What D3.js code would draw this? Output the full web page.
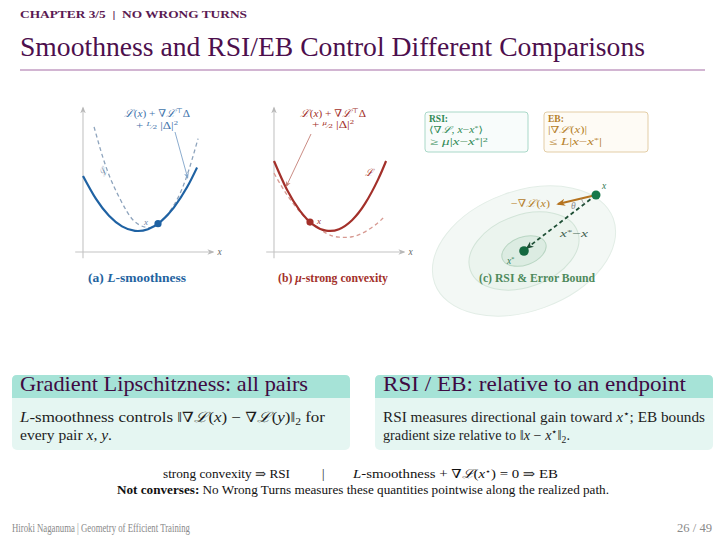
<!DOCTYPE html>
<html><head><meta charset="utf-8">
<script src="https://cdn.jsdelivr.net/npm/d3@7"></script>
<style>
body{margin:0;background:#fff}
svg{display:block}
text{font-family:"Liberation Serif","DejaVu Serif",serif}
.it{font-style:italic}
</style></head>
<body><svg id="s" width="726" height="544"></svg>
<script>
// ---------- data ----------
const smoothX      = [0, 1, 2, 3, 4, 5, 6, 7, 8, 8.77];
const smoothLoss   = [5.43, 3.79, 2.59, 1.83, 1.51, 1.63, 2.19, 3.19, 4.62, 6.03];
const smoothBoundX = [0.85, 1.85, 2.92, 3.85, 4.85, 5.77, 6.92, 7.92, 8.85];
const smoothBound  = [8.94, 5.87, 3.66, 2.29, 1.76, 2.02, 3.24, 5.24, 8.1];
const smoothPoint  = [5.77, 2.02];

const strongX      = [0, 1, 2, 3, 4, 5, 6, 7, 8, 8.62];
const strongLoss   = [6.5, 4.44, 2.94, 1.96, 1.53, 1.63, 2.27, 3.45, 5.17, 6.5];
const strongBoundX = [0, 1, 2, 2.77, 4, 5, 6, 7, 8, 8.54];
const strongBound  = [5.63, 4.09, 2.86, 2.14, 1.35, 1.06, 1.09, 1.44, 2.09, 2.58];
const strongPoint  = [2.77, 2.14];

const levelSets = [[4.75, 3.0], [2.85, 1.8], [1.15, 0.7]]; // semi-axes
const levelTilt = -20;
const optimum   = [0, 0];
const iterate   = [3.6, 2.8];
const negGrad   = [1.7, 2.35];
const dirEnd    = [0.15, 0.15];

const captions = ["(a) ", "(b) ", "(c) RSI & Error Bound"];

// ---------- setup ----------
const svg = d3.select("#s");
const defs = svg.append("defs");
function marker(id, color, size) {
  defs.append("marker").attr("id", id).attr("viewBox", "0 0 10 10")
    .attr("refX", 8).attr("refY", 5).attr("markerWidth", size).attr("markerHeight", size)
    .attr("orient", "auto-start-reverse").attr("markerUnits", "userSpaceOnUse")
    .append("path").attr("d", "M0,1 L10,5 L0,9 L3,5 Z").attr("fill", color);
}
marker("axis", "#b8b8b8", 7);
marker("blueA", "#7fa3c8", 6);
marker("redA", "#c47f76", 6);
marker("gradA", "#b5731f", 9);
marker("dirA", "#1f4f36", 8);

// ---------- header ----------
const purple = "#4d0f4d";
svg.append("text").attr("x", 20).attr("y", 18).attr("font-size", 11).attr("font-weight", "bold")
  .attr("fill", "#5a1a52").attr("textLength", 227).attr("lengthAdjust", "spacingAndGlyphs")
  .attr("xml:space", "preserve")
  .text("CHAPTER 3/5  |  NO WRONG TURNS");
svg.append("text").attr("x", 20).attr("y", 56).attr("font-size", 27).attr("fill", purple)
  .attr("textLength", 625).attr("lengthAdjust", "spacingAndGlyphs")
  .text("Smoothness and RSI/EB Control Different Comparisons");
svg.append("line").attr("x1", 20).attr("x2", 705).attr("y1", 70).attr("y2", 70)
  .attr("stroke", "#c39cc3").attr("stroke-width", 1.6);

// ---------- helpers ----------
function axes(g, xs, ys) {
  g.append("line").attr("x1", xs(0)).attr("x2", xs(0)).attr("y1", ys(-0.45)).attr("y2", ys(10.3))
    .attr("stroke", "#c4c4c4").attr("stroke-width", 1.1).attr("marker-end", "url(#axis)");
  g.append("line").attr("x1", xs(-0.6)).attr("x2", xs(10)).attr("y1", ys(0)).attr("y2", ys(0))
    .attr("stroke", "#c4c4c4").attr("stroke-width", 1.1).attr("marker-end", "url(#axis)");
  g.append("text").attr("x", xs(10.35)).attr("y", ys(0) + 3).attr("font-size", 9.5)
    .attr("class", "it").attr("fill", "#666").text("x");
}
function curve(xs, ys) {
  return d3.line().x(d => xs(d[0])).y(d => ys(d[1])).curve(d3.curveNatural);
}
function annot(g, cx, y1, y2, color, coef, len1, len2) {
  const t1 = g.append("text").attr("x", cx).attr("y", y1).attr("text-anchor", "middle").attr("font-size", 10.5).attr("fill", color)
    .attr("textLength", len1).attr("lengthAdjust", "spacingAndGlyphs");
  t1.append("tspan").attr("class", "it").text("ℒ");
  t1.append("tspan").text("(");
  t1.append("tspan").attr("class", "it").text("x");
  t1.append("tspan").text(") + ∇");
  t1.append("tspan").attr("class", "it").text("ℒ");
  t1.append("tspan").attr("font-size", 7).attr("dy", -4).text("⊤");
  t1.append("tspan").attr("dy", 4).text("Δ");
  const t2 = g.append("text").attr("x", cx).attr("y", y2).attr("text-anchor", "middle").attr("font-size", 10.5).attr("fill", color)
    .attr("textLength", len2).attr("lengthAdjust", "spacingAndGlyphs");
  t2.append("tspan").text("+ ");
  t2.append("tspan").attr("class", "it").attr("font-size", 7).attr("dy", -3).text(coef);
  t2.append("tspan").attr("font-size", 7).attr("dy", 3).text("⁄2");
  t2.append("tspan").text(" |Δ|");
  t2.append("tspan").attr("font-size", 7).attr("dy", -4).text("2");
}
function mathText(g, x, y, size, color, len, parts, weight) {
  const t = g.append("text").attr("x", x).attr("y", y).attr("font-size", size).attr("fill", color);
  if (len) t.attr("textLength", len).attr("lengthAdjust", "spacingAndGlyphs");
  if (weight) t.attr("font-weight", weight);
  parts.forEach(p => {
    const s = t.append("tspan").text(p[0]);
    if (p[1] === "i") s.attr("class", "it");
    if (p[1] === "sup") s.attr("font-size", size * 0.68).attr("dy", -3.5);
    if (p[1] === "supr") s.attr("dy", 3.5);
  });
  return t;
}

// ---------- panel (a) ----------
const ga = svg.append("g");
const xa = d3.scaleLinear().domain([0, 10]).range([83, 213]);
const ya = d3.scaleLinear().domain([0, 10]).range([252, 112]);
axes(ga, xa, ya);
ga.append("path").datum(d3.zip(smoothBoundX, smoothBound)).attr("d", curve(xa, ya))
  .attr("fill", "none").attr("stroke", "#8ea4bd").attr("stroke-width", 1.3).attr("stroke-dasharray", "4,3");
ga.append("path").datum(d3.zip(smoothX, smoothLoss)).attr("d", curve(xa, ya))
  .attr("fill", "none").attr("stroke", "#1f62a3").attr("stroke-width", 2.2);
ga.append("circle").attr("cx", xa(smoothPoint[0])).attr("cy", ya(smoothPoint[1])).attr("r", 3.6).attr("fill", "#1f62a3");
ga.append("text").attr("x", xa(smoothPoint[0]) - 14).attr("y", ya(smoothPoint[1]) + 1).attr("font-size", 9)
  .attr("class", "it").attr("fill", "#6d88a8").text("x");
ga.append("text").attr("x", 99).attr("y", 175).attr("font-size", 9.5).attr("class", "it")
  .attr("fill", "#6d88a8").attr("transform", "rotate(-60,103,172)").text("ℒ");
annot(ga, 157, 117, 129, "#3f74ab", "L", 66, 42);
ga.append("line").attr("x1", 175).attr("y1", 132).attr("x2", xa(8.05)).attr("y2", ya(5.3))
  .attr("stroke", "#7fa3c8").attr("stroke-width", 0.9).attr("marker-end", "url(#blueA)");
{
  const c = ga.append("text").attr("x", 137).attr("y", 282).attr("text-anchor", "middle")
    .attr("font-size", 11.5).attr("font-weight", "bold").attr("fill", "#2363a0")
    .attr("textLength", 98).attr("lengthAdjust", "spacingAndGlyphs");
  c.append("tspan").text(captions[0]);
  c.append("tspan").attr("class", "it").text("L");
  c.append("tspan").text("-smoothness");
}

// ---------- panel (b) ----------
const gb = svg.append("g");
const xb = d3.scaleLinear().domain([0, 10]).range([274, 404]);
const yb = d3.scaleLinear().domain([0, 10]).range([252, 112]);
axes(gb, xb, yb);
gb.append("path").datum(d3.zip(strongBoundX, strongBound)).attr("d", curve(xb, yb))
  .attr("fill", "none").attr("stroke", "#d79a92").attr("stroke-width", 1.3).attr("stroke-dasharray", "4,3");
gb.append("path").datum(d3.zip(strongX, strongLoss)).attr("d", curve(xb, yb))
  .attr("fill", "none").attr("stroke", "#a3302a").attr("stroke-width", 2.2);
gb.append("circle").attr("cx", xb(strongPoint[0])).attr("cy", yb(strongPoint[1])).attr("r", 3.6).attr("fill", "#a3302a");
gb.append("text").attr("x", xb(strongPoint[0]) + 7).attr("y", yb(strongPoint[1]) + 2).attr("font-size", 9)
  .attr("class", "it").attr("fill", "#a3302a").text("x");
gb.append("text").attr("x", 365).attr("y", 176).attr("font-size", 10).attr("class", "it")
  .attr("fill", "#a3302a").text("ℒ");
annot(gb, 333, 117, 128, "#a3302a", "μ", 66, 42);
gb.append("line").attr("x1", 311).attr("y1", 134).attr("x2", xb(0.95)).attr("y2", yb(4.7))
  .attr("stroke", "#c47f76").attr("stroke-width", 0.9).attr("marker-end", "url(#redA)");
{
  const c = gb.append("text").attr("x", 333).attr("y", 282).attr("text-anchor", "middle")
    .attr("font-size", 11.5).attr("font-weight", "bold").attr("fill", "#a3302a")
    .attr("textLength", 110).attr("lengthAdjust", "spacingAndGlyphs");
  c.append("tspan").text(captions[1]);
  c.append("tspan").attr("class", "it").text("μ");
  c.append("tspan").text("-strong convexity");
}

// ---------- panel (c) ----------
const gc = svg.append("g");
const xc = d3.scaleLinear().domain([-5, 5]).range([424, 624]);
const yc = d3.scaleLinear().domain([-5, 5]).range([351, 151]);
const ellFill = ["#f3f8f5", "#ebf4ee", "#dcece2"];
const ellStroke = ["#e2ede6", "#d2e4d8", "#b9d6c3"];
gc.selectAll("ellipse").data(levelSets).join("ellipse")
  .attr("cx", xc(optimum[0])).attr("cy", yc(optimum[1]))
  .attr("rx", d => xc(d[0]) - xc(0)).attr("ry", d => yc(0) - yc(d[1]))
  .attr("transform", `rotate(${levelTilt},${xc(optimum[0])},${yc(optimum[1])})`)
  .attr("fill", (d, i) => ellFill[i]).attr("stroke", (d, i) => ellStroke[i]).attr("stroke-width", 1);

function box(x, y, w, h, stroke, fill) {
  gc.append("rect").attr("x", x).attr("y", y).attr("width", w).attr("height", h).attr("rx", 3)
    .attr("fill", fill).attr("stroke", stroke).attr("stroke-width", 1);
}
box(425, 112, 103, 40, "#a9d8c8", "#f8fcfb");
box(544, 112, 104, 40, "#e3cda6", "#fefbf5");
{
  const g1 = "#2f8a55", o = "#b5802a";
  mathText(gc, 429, 122, 9.5, g1, 0, [["RSI:"]], "bold");
  mathText(gc, 429, 133, 9.5, g1, 54, [["⟨∇"], ["ℒ", "i"], [", "], ["x", "i"], ["−"], ["x", "i"], ["*", "sup"], ["⟩", "supr"]]);
  mathText(gc, 430, 145, 9.5, g1, 58, [["≥ "], ["μ", "i"], ["|"], ["x", "i"], ["−"], ["x", "i"], ["*", "sup"], ["|", "supr"], ["2", "sup"]]);
  mathText(gc, 548, 122, 9.5, o, 0, [["EB:"]], "bold");
  mathText(gc, 548, 133, 9.5, o, 39, [["|∇"], ["ℒ", "i"], ["("], ["x", "i"], [")|"]]);
  mathText(gc, 549, 145, 9.5, o, 53, [["≤ "], ["L", "i"], ["|"], ["x", "i"], ["−"], ["x", "i"], ["*", "sup"], ["|", "supr"]]);
}

gc.append("line").attr("x1", xc(iterate[0])).attr("y1", yc(iterate[1]))
  .attr("x2", xc(dirEnd[0])).attr("y2", yc(dirEnd[1]))
  .attr("stroke", "#1f4f36").attr("stroke-width", 1.8).attr("stroke-dasharray", "4,3")
  .attr("marker-end", "url(#dirA)");
gc.append("line").attr("x1", xc(iterate[0])).attr("y1", yc(iterate[1]))
  .attr("x2", xc(negGrad[0])).attr("y2", yc(negGrad[1]))
  .attr("stroke", "#b5731f").attr("stroke-width", 2).attr("marker-end", "url(#gradA)");
{
  const px = xc(iterate[0]), py = yc(iterate[1]);
  const a1 = Math.atan2(yc(negGrad[1]) - py, xc(negGrad[0]) - px);
  const a2 = Math.atan2(yc(optimum[1]) - py, xc(optimum[0]) - px);
  const r = 15;
  gc.append("path")
    .attr("d", `M${px + r * Math.cos(a1)},${py + r * Math.sin(a1)} A${r},${r} 0 0 0 ${px + r * Math.cos(a2)},${py + r * Math.sin(a2)}`)
    .attr("fill", "none").attr("stroke", "#8a8a8a").attr("stroke-width", 0.8);
  const am = (a1 + a2) / 2;
  gc.append("text").attr("x", px + 25 * Math.cos(am)).attr("y", py + 25 * Math.sin(am) + 3)
    .attr("text-anchor", "middle").attr("font-size", 9.5).attr("class", "it").attr("fill", "#8a8a8a").text("θ");
}
gc.append("circle").attr("cx", xc(iterate[0])).attr("cy", yc(iterate[1])).attr("r", 4.5).attr("fill", "#17784a");
gc.append("circle").attr("cx", xc(optimum[0])).attr("cy", yc(optimum[1])).attr("r", 4.8).attr("fill", "#13683f");
gc.append("text").attr("x", xc(iterate[0]) + 6).attr("y", yc(iterate[1]) - 6).attr("font-size", 9.5)
  .attr("class", "it").attr("fill", "#2f7a55").text("x");
mathText(gc, 511, 207, 10.5, "#b5802a", 39, [["−∇"], ["ℒ", "i"], ["("], ["x", "i"], [")"]]);
mathText(gc, 560, 237, 10, "#3f5f4f", 28, [["x", "i"], ["*", "sup"], ["−", "supr"], ["x", "i"]]);
mathText(gc, 507, 264, 9.5, "#2f7a55", 0, [["x", "i"], ["*", "sup"]]);
gc.append("text").attr("x", 537).attr("y", 282).attr("text-anchor", "middle").attr("font-size", 11.5)
  .attr("font-weight", "bold").attr("fill", "#4e8a5c").attr("textLength", 116).attr("lengthAdjust", "spacingAndGlyphs")
  .text(captions[2]);

// ---------- blocks ----------
function block(x, w, title, titleLen, lines, lens) {
  const g = svg.append("g");
  const top = 375, hh = 23, h = 75;
  g.append("rect").attr("x", x).attr("y", top).attr("width", w).attr("height", h).attr("rx", 5).attr("fill", "#e5f6f2");
  g.append("path").attr("d", `M${x},${top + hh} V${top + 5} Q${x},${top} ${x + 5},${top} H${x + w - 5} Q${x + w},${top} ${x + w},${top + 5} V${top + hh} Z`)
    .attr("fill", "#a6e3d7");
  g.append("text").attr("x", x + 8).attr("y", top + 16).attr("font-size", 21).attr("fill", "#3f0a42")
    .attr("textLength", titleLen).attr("lengthAdjust", "spacingAndGlyphs").text(title);
  lines.forEach((parts, i) => {
    const t = g.append("text").attr("x", x + 8).attr("y", top + 47 + i * 18).attr("font-size", 14).attr("fill", "#1d1d1d")
      .attr("textLength", lens[i]).attr("lengthAdjust", "spacingAndGlyphs");
    parts.forEach(p => {
      const s = t.append("tspan").text(p[0]);
      if (p[1] === "i") s.attr("class", "it");
      if (p[1] === "sub") s.attr("font-size", 9.5).attr("dy", 3);
      if (p[1] === "subr") s.attr("dy", -3);
      if (p[1] === "sup") s.attr("font-size", 9.5).attr("dy", -5);
      if (p[1] === "supr") s.attr("dy", 5);
    });
  });
}
block(12, 338, "Gradient Lipschitzness: all pairs", 288, [
  [["L", "i"], ["-smoothness controls ‖∇"], ["ℒ", "i"], ["("], ["x", "i"], [") − ∇"], ["ℒ", "i"], ["("], ["y", "i"], [")‖"], ["2", "sub"], [" for", "subr"]],
  [["every pair "], ["x", "i"], [", "], ["y", "i"], ["."]]
], [305, 92]);
block(375, 338, "RSI / EB: relative to an endpoint", 303, [
  [["RSI measures directional gain toward "], ["x", "i"], ["⋆", "sup"], ["; EB bounds", "supr"]],
  [["gradient size relative to ‖"], ["x", "i"], [" − "], ["x", "i"], ["⋆", "sup"], ["‖", "supr"], ["2", "sub"], [".", "subr"]]
], [322, 187]);

// ---------- bottom lines ----------
{
  const t = svg.append("text").attr("y", 478).attr("font-size", 12.5).attr("fill", "#111");
  t.append("tspan").attr("x", 163).attr("textLength", 127).attr("lengthAdjust", "spacingAndGlyphs").text("strong convexity ⇒ RSI");
  t.append("tspan").attr("x", 322).text("|");
  const w = svg.append("text").attr("x", 353).attr("y", 478).attr("font-size", 12.5).attr("fill", "#111")
    .attr("textLength", 205).attr("lengthAdjust", "spacingAndGlyphs");
  w.append("tspan").attr("class", "it").text("L");
  w.append("tspan").text("-smoothness + ∇");
  w.append("tspan").attr("class", "it").text("ℒ");
  w.append("tspan").text("(");
  w.append("tspan").attr("class", "it").text("x");
  w.append("tspan").attr("font-size", 8).attr("dy", -4).text("⋆");
  w.append("tspan").attr("dy", 4).text(") = 0 ⇒ EB");
  const u = svg.append("text").attr("x", 363).attr("y", 494).attr("text-anchor", "middle").attr("font-size", 12.5).attr("fill", "#111")
    .attr("textLength", 492).attr("lengthAdjust", "spacingAndGlyphs");
  u.append("tspan").attr("font-weight", "bold").text("Not converses:");
  u.append("tspan").text(" No Wrong Turns measures these quantities pointwise along the realized path.");
}

// ---------- footer ----------
svg.append("text").attr("x", 12).attr("y", 532).attr("font-size", 11.5).attr("fill", "#8a8a8a")
  .attr("textLength", 178).attr("lengthAdjust", "spacingAndGlyphs")
  .text("Hiroki Naganuma | Geometry of Efficient Training");
svg.append("text").attr("x", 712).attr("y", 532).attr("text-anchor", "end").attr("font-size", 11.5).attr("fill", "#8a8a8a")
  .attr("textLength", 35).attr("lengthAdjust", "spacingAndGlyphs")
  .text("26 / 49");
</script></body></html>
